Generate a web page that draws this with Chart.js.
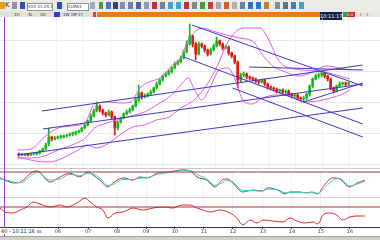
<!DOCTYPE html>
<html><head><meta charset="utf-8">
<script src="https://cdn.jsdelivr.net/npm/chart.js@4/dist/chart.umd.min.js"></script>
<style>
body{margin:0;width:380px;height:240px;overflow:hidden;background:#fff;font-family:"DejaVu Sans",sans-serif;position:relative}
canvas{position:absolute;left:0}
.a{position:absolute}
#tb{left:0;top:0;width:380px;height:12px;background:#eceae4}
#tabs{left:0;top:12px;width:97px;height:5px;background:#e2e0da}
#orange{left:97px;top:12px;width:245px;height:5px;background:#f07a10}
#clock{left:320px;top:12px;width:22px;height:8px;background:#10204a;color:#fff;font-size:5px;line-height:8px;text-align:center}
.bx{position:absolute;height:6px;top:3px;background:#fff;border:1px solid #8890a8;font-size:4px;line-height:6px;color:#333;overflow:hidden;white-space:nowrap}
.ic{position:absolute;top:2px;width:5px;height:7px}
.tab{position:absolute;top:12px;height:5px;font-size:4px;line-height:5px;color:#333}
</style></head><body>
<div id="tb" class="a"></div>
<div class="ic" style="left:0;background:#e8a020"></div>
<div class="a" style="left:5px;top:1px;font-size:7px;color:#333">K</div>
<div class="ic" style="left:12px;background:#9090a0"></div>
<div class="ic" style="left:20px;background:#3050b0"></div>
<div class="bx" style="left:27px;width:24px">XXX 21.05.17</div>
<div class="ic" style="left:57px;background:#2050d0"></div>
<div class="bx" style="left:67px;width:20px">CURA3</div>
<div class="ic" style="left:90px;background:#a0a8b8"></div>
<div class="ic" style="left:99px;background:#40a040;width:4px"></div>
<div class="ic" style="left:106px;background:#5070c0"></div>
<div class="ic" style="left:113px;background:#404060"></div>
<div class="ic" style="left:120px;background:#8090b0"></div>
<div class="ic" style="left:128px;background:#7080a0"></div>
<div class="ic" style="left:136px;background:#5060a0"></div>
<div class="ic" style="left:144px;background:#9098b0"></div>
<div class="ic" style="left:152px;background:#c03040"></div>
<div class="ic" style="left:160px;background:#7080a0"></div>
<div class="ic" style="left:168px;background:#40a8d0"></div>
<div class="ic" style="left:176px;background:#40a8d0"></div>
<div class="ic" style="left:184px;background:#c03040"></div>
<div class="ic" style="left:192px;background:#808890"></div>
<div class="ic" style="left:200px;background:#40a040"></div>
<div class="ic" style="left:208px;background:#c04040"></div>
<div class="ic" style="left:216px;background:#a0a8b8"></div>
<div class="ic" style="left:224px;background:#d06020"></div>
<div class="ic" style="left:232px;background:#b0b0b0"></div>
<div class="ic" style="left:240px;background:#7080a0"></div>
<div class="ic" style="left:248px;background:#3070d0"></div>
<div class="ic" style="left:256px;background:#3070d0"></div>
<div class="ic" style="left:264px;background:#c08030"></div>
<div class="ic" style="left:275px;background:#8090a0"></div>
<div class="ic" style="left:283px;background:#607080"></div>
<div class="ic" style="left:291px;background:#4080c0"></div>
<div class="ic" style="left:299px;background:#40a0d0"></div>
<div id="tabs" class="a"></div>
<div class="tab" style="left:14px">1H</div>
<div class="tab" style="left:28px">4L</div>
<div class="tab" style="left:40px">1D</div>
<div class="a" style="left:54px;top:12px;width:6px;height:5px;background:#3040c0"></div>
<div class="tab" style="left:63px">1W 1M 1Y</div>
<div class="a" style="left:93px;top:12px;width:3px;height:5px;background:#e04040"></div>
<div id="orange" class="a"></div>
<div class="a" style="left:342px;top:12px;width:38px;height:5px;background:#e8e6e0"></div>
<div class="a" style="left:343px;top:12px;width:4px;height:5px;background:#30a030"></div>
<div class="a" style="left:347px;top:12px;width:8px;height:5px;background:#d02020;color:#fff;font-size:4px;line-height:5px">0.0</div>
<div class="a" style="left:357px;top:12px;font-size:4px;line-height:5px;color:#666">· 1 · 1 ·</div>
<div id="clock" class="a">10:11:17</div>

<canvas id="main" width="380" height="151" style="top:17px;width:380px;height:151px"></canvas>
<div class="a" style="left:0;top:168px;width:380px;height:1px;background:#c8c8c8"></div>
<canvas id="stoch" width="380" height="32" style="top:168px;width:380px;height:32px"></canvas>
<div class="a" style="left:0;top:197px;width:380px;height:1px;background:#d0d0d0"></div>
<canvas id="osc" width="380" height="40" style="top:196px;width:380px;height:40px"></canvas>
<div class="a" style="left:0;top:236px;width:380px;height:4px;background:#d4d0c8;border-top:1px solid #a0a0a0"></div>
<div class="a" style="left:4px;top:17px;width:1px;height:219px;background:#9040c0"></div>
<div class="a" style="left:1px;top:228px;font-size:5px;line-height:6px;color:#222;background:#fff">40 - 10:11:16 ss</div>

<script>
// ---- data (x = candle index, y = price) ----
const opens=[14,13,13,13.5,13,14,14,15,17,19,24,31,29,30,31,31,32,33,34,34,36,37,40,43,47,52,57,62,58,55,53,56,51,40,46,50,54,56,58,62,68,75,71,72,74,76,80,84,88,92,94,96,100,104,106,110,116,124,132,124,114,124,122,118,114,118,122,127,124,120,121,115,112,106,88,93,94,91,90,89,87,86,88,84,81,80,79,77,78,76,77,74,72,73,70,69,70,74,82,89,92,93,95,92,89,80,77,82,84,85,84];
const closes=[13,13,13.5,13,14,14,15,17,19,23,31,29,30,31,31,32,33,34,34,36,37,40,43,47,52,57,62,58,55,53,56,51,40,46,50,54,56,58,62,68,75,71,72,74,76,80,84,88,92,94,96,100,104,106,110,116,124,132,124,114,124,122,118,114,118,122,127,124,120,121,115,112,106,88,93,94,91,90,89,87,86,88,84,81,80,79,77,78,76,77,74,72,73,70,69,70,74,82,89,92,93,95,92,89,80,77,82,84,85,84,85];
const highs=[15,14.5,14.5,14.5,15,15,16,18,20,25,40,32,31.5,32,33,33,34,35,36,37,38,41,44,48,54,59,66,63,59,56,58,57,52,47,51,55,58,60,63,70,83,76,74,75,78,81,86,89,93,96,98,101,106,108,112,118,127,144,133,126,126,125,123,119,120,124,131,128,125,123,122,116,113,107,95,96,95,92,91,90,88,89,89,85,82,81,80,79,79,78,78,75,74,74,71,72,75,83,90,94,95,97,96,93,90,81,83,86,86,86,86];
const lows=[12,12,12,12,12.5,13,13,14,16,18,22,27,28,29,29.5,30,31,32,32,33,35,36,39,42,46,51,56,56,53,51,52,49,33,38,45,49,53,55,57,61,66,69,70,71,73,75,79,83,87,91,93,95,99,103,105,109,115,123,121,108,113,120,116,112,113,117,121,122,118,119,113,110,104,80,86,91,89,88,87,85,84,85,82,79,78,77,75,75,74,74,72,70,70,68,67,66,68,72,80,88,90,91,90,87,78,75,76,81,83,82,83];

const bandUpper=[[-0.5,18],[4,19],[8.6,31],[13.1,40],[17.7,42],[22.2,46],[25.3,64],[29.8,66],[34.4,65],[37.4,66],[40.4,80],[43.4,86],[47.1,90],[51,102],[54,110],[56.5,128],[58.6,136],[61,140],[64.7,137],[69.2,133],[73.7,130],[78.3,126],[81.3,113],[84.3,103],[88.9,96],[93.4,92],[98,96],[102.5,102],[107.1,100],[110.4,98]];
const bandLower=[[-0.5,10],[4,10],[8.6,12],[13.1,18],[17.7,23],[22.2,30],[25.3,40],[28.3,44],[32.8,48],[37.4,52],[41.9,56],[46.5,64],[51,73],[54,83],[56.5,90],[58.6,78],[61,68],[63.7,80],[66.8,98],[69.8,100],[72.2,88],[74.7,68],[77.7,64],[81.3,70],[85.9,73],[90.4,72],[95,66],[99.5,67],[104,70],[108,74],[110.4,78]];
const bandSlow=[[-0.5,11],[5.6,7],[10.1,6],[14.7,10],[19.8,18],[22.8,23],[25.9,20],[28.9,23],[32.8,31],[38,41],[41.9,43],[45.9,48],[50.1,51],[54,60],[57.1,65],[60.1,73],[63.1,85],[66.2,102],[69.2,123],[72.2,136],[74.7,140],[80.4,140],[83.4,128],[86.5,108],[90.4,100],[99.5,97],[104.7,94],[110.4,89]];

const trendLines=[
  [[7.7,57],[114.7,103]],
  [[8.0,39],[114.7,84]],
  [[-0.5,13],[114.7,60]],
  [[57.7,143],[114.7,82]],
  [[55.0,111],[114.7,44]],
  [[71.3,80],[114.7,31]],
  [[76.8,101],[114.7,98]],
  [[95.0,66],[114.7,85]]
];

const stochK=[[-0.5,69],[2.5,56],[4,53],[5.6,56],[9.5,88],[10.7,91],[14.7,56],[17.7,72],[20.7,84],[23.7,72],[26.2,88],[27.7,78],[29.8,62],[32.2,41],[33.7,53],[36.8,69],[39.8,62],[41.9,72],[44.3,69],[47.1,84],[51,88],[54.7,94],[57.1,91],[59.2,72],[62.2,62],[64.7,41],[66.8,62],[68.3,66],[69.8,56],[73.1,25],[76.2,31],[78.9,28],[80.7,38],[83.7,31],[85.9,19],[87.4,25],[90.4,25],[92.5,22],[94,25],[95.9,19],[97.4,41],[100.4,69],[102.5,66],[104.7,44],[105.6,41],[107.7,53],[110.1,62]];
const stochD=[[-0.5,66],[2.5,60],[4,55],[5.6,54],[9.5,80],[10.7,88],[14.7,62],[17.7,66],[20.7,80],[23.7,76],[26.2,84],[27.7,82],[29.8,68],[32.2,46],[33.7,48],[36.8,64],[39.8,64],[41.9,68],[44.3,70],[47.1,80],[51,86],[54.7,92],[57.1,92],[59.2,80],[62.2,66],[64.7,46],[66.8,54],[68.3,62],[69.8,58],[73.1,30],[76.2,29],[78.9,28],[80.7,34],[83.7,32],[85.9,23],[87.4,23],[90.4,24],[92.5,23],[94,23],[95.9,21],[97.4,33],[100.4,62],[102.5,67],[104.7,50],[105.6,44],[107.7,49],[110.1,58]];
const stochLevel=87.5;

const osc=[[-0.5,19],[1,15],[3.4,14],[5.6,17],[7.7,20],[9.5,25],[11.6,23],[14.7,20],[17.7,22],[19.8,20],[22.8,24],[25.3,29],[26.8,25],[28.9,20],[30.7,17],[32.2,9],[34.4,14],[36.8,15],[39.8,19],[42.8,17],[45.9,19],[48.9,20],[51.9,19],[54.7,22],[57.1,22],[59.2,19],[61,17],[63.1,15],[66.2,17],[69.2,14],[71.3,9],[73.1,2],[75.3,7],[77.4,4],[79.2,7],[82.2,6],[85.3,5],[87.4,9],[89.5,6],[91.9,4],[94.4,5],[95.9,3],[97.4,12],[99.5,14],[101.6,12],[103.4,7],[105.6,10],[107.7,11],[110.1,11]];
const oscLevel=20;

const tickIdx=[17.1,26.2,35,43.8,52.5,61.3,70.1,79.2,88,96.8,105.6];
const tickLabels=['06','07','08','09','10','11','12','13','14','15','16'];
const gridPrices=[4,35,66,97,128];

// ---- helpers ----
const X0=-0.5, X1=114.7;
const pts=a=>a.map(p=>({x:p[0],y:p[1]}));
const UP='#18b818', DN='#e01818';
const candleCol=opens.map((o,i)=>closes[i]>=o?UP:DN);
const idx=opens.map((_,i)=>i);

function xScale(showLabels){
  return {type:'linear',min:X0,max:X1,
    afterBuildTicks(s){s.ticks=tickIdx.map(v=>({value:v}));},
    afterFit(s){s.height=showLabels?9:0;},
    ticks:{display:showLabels,autoSkip:false,maxRotation:0,padding:0,font:{size:5,family:'DejaVu Sans'},color:'#444',
      callback:(v,i)=>tickLabels[i]},
    grid:{color:'#e4e4e4',lineWidth:1,drawTicks:showLabels,tickLength:2,tickColor:'#444'},
    border:{display:showLabels,color:'#333',dash:[1,1]}};
}
function yScale(min,max,grid){
  return {min:min,max:max,
    afterBuildTicks(s){s.ticks=(grid||[]).map(v=>({value:v}));},
    afterFit(s){s.width=0;},
    ticks:{display:false},grid:{color:'#e8e8e8',drawTicks:false},border:{display:false}};
}
const common={responsive:false,maintainAspectRatio:false,animation:false,events:[],
  layout:{padding:0},plugins:{legend:{display:false},tooltip:{enabled:false}}};
const lineDs=(data,color,extra)=>Object.assign({type:'line',data:data,borderColor:color,borderWidth:1,pointRadius:0,fill:false},extra||{});
const smooth={cubicInterpolationMode:'monotone'};

// ---- main price panel ----
const mainSets=[];
mainSets.push({type:'bar',data:idx.map(i=>({x:i,y:[lows[i],highs[i]]})),backgroundColor:candleCol,barThickness:1,grouped:false,order:5});
mainSets.push({type:'bar',data:idx.map(i=>({x:i,y:[opens[i],closes[i]]})),backgroundColor:candleCol,barThickness:2,minBarLength:1,grouped:false,order:4});
mainSets.push(lineDs(pts(bandUpper),'#e458e4',Object.assign({order:2},smooth)));
mainSets.push(lineDs(pts(bandLower),'#e458e4',Object.assign({order:2},smooth)));
mainSets.push(lineDs(pts(bandSlow),'#e458e4',Object.assign({order:2},smooth)));
trendLines.forEach(l=>mainSets.push(lineDs(pts(l),'#3838c8',{order:1})));
new Chart(document.getElementById('main'),{data:{datasets:mainSets},
  options:Object.assign({},common,{scales:{x:xScale(false),y:yScale(0,151,gridPrices)}})});

// ---- stochastic panel ----
new Chart(document.getElementById('stoch'),{type:'line',data:{datasets:[
  lineDs([{x:X0,y:stochLevel},{x:X1,y:stochLevel}],'#a03838'),
  lineDs(pts(stochD),'#40c8c8',smooth),
  lineDs(pts(stochK),'#505050',Object.assign({segment:{borderColor:c=>c.p1.parsed.y>c.p0.parsed.y?'#e03030':'#505050'}},smooth))
]},options:Object.assign({},common,{scales:{x:xScale(false),y:yScale(0,100,[])}})});

// ---- oscillator panel with time axis ----
new Chart(document.getElementById('osc'),{type:'line',data:{datasets:[
  lineDs([{x:X0,y:oscLevel},{x:X1,y:oscLevel}],'#a03838'),
  lineDs(pts(osc),'#e02828',smooth)
]},options:Object.assign({},common,{scales:{x:xScale(true),y:yScale(0,31,[])}})});
</script>
</body></html>
